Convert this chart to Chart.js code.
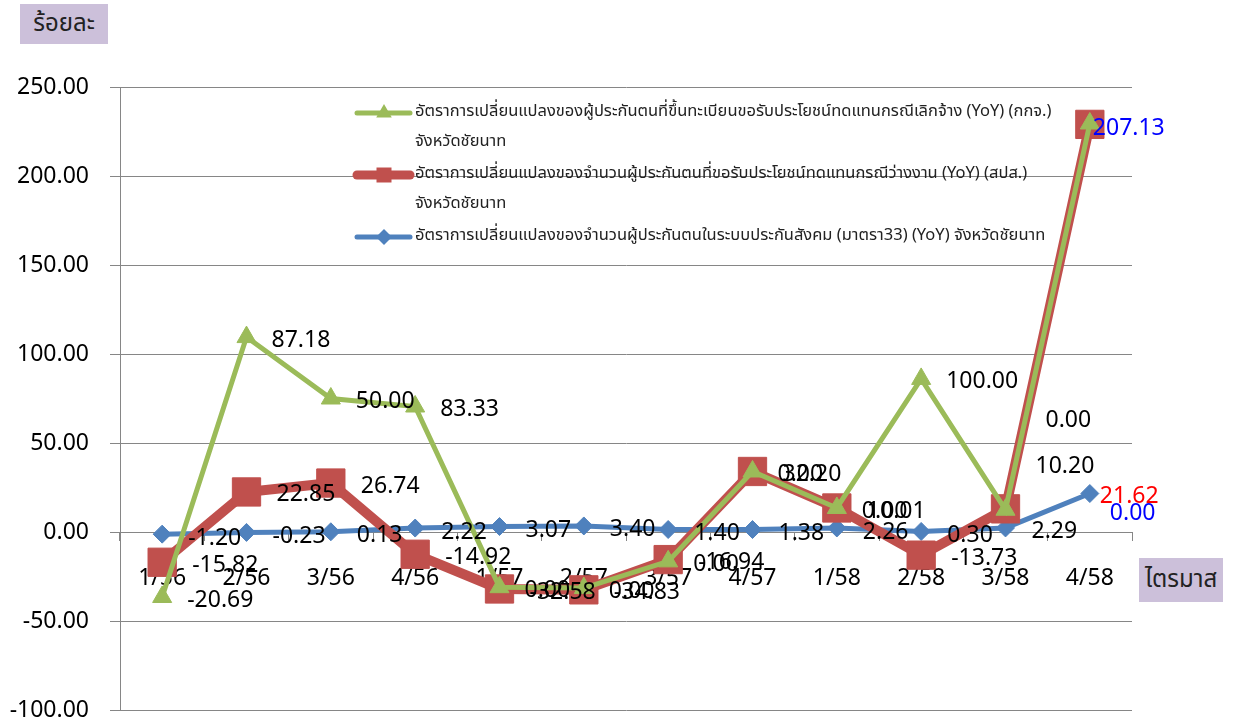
<!DOCTYPE html>
<html>
<head>
<meta charset="utf-8">
<script src="https://cdn.jsdelivr.net/npm/chart.js@4.4.1/dist/chart.umd.min.js"></script>
<style>
  html, body { margin: 0; padding: 0; background: #fff; }
  #wrap { position: relative; width: 1237px; height: 725px; }
  canvas { position: absolute; left: 0; top: 0; }
  .box { position: absolute; background: #CCC0DA; color: #222;
         font-family: 'Noto Sans Thai', 'Noto Sans', sans-serif; font-size: 24px;
         display: flex; align-items: center; justify-content: center; }
  #ylab { left: 20px; top: 4px; width: 88px; height: 40px; }
  #xlab { left: 1139px; top: 558px; width: 84px; height: 44px; }
</style>
</head>
<body>
<div id="wrap">
  <canvas id="c" width="1237" height="725"></canvas>
  <div class="box" id="ylab">ร้อยละ</div>
  <div class="box" id="xlab">ไตรมาส</div>
</div>
<script>
// ---- data ----
const categories = ["1/56","2/56","3/56","4/56","1/57","2/57","3/57","4/57","1/58","2/58","3/58","4/58"];
const greenValues = [-36.5, 109.5, 75, 70.5, -31, -31.5, -16.5, 34, 13.5, 86, 12.5, 229.5];
const redValues   = [-17, 22.5, 27.5, -12.5, -32, -32.5, -15.5, 34, 13.5, -13, 13, 229];
const blueValues  = [-1.20, -0.23, 0.13, 2.22, 3.07, 3.40, 1.40, 1.38, 2.26, 0.30, 2.29, 21.62];
const greenLabels = ["-20.69","87.18","50.00","83.33","0.00","0.00","0.00","0.00","0.00","100.00","0.00","207.13"];
const redLabels   = ["-15.82","22.85","26.74","-14.92","-32.58","-34.83","-16.94","32.20","10.01","-13.73","10.20","0.00"];
const blueLabels  = ["-1.20","-0.23","0.13","2.22","3.07","3.40","1.40","1.38","2.26","0.30","2.29","21.62"];
const greenName = ["อัตราการเปลี่ยนแปลงของผู้ประกันตนที่ขึ้นทะเบียนขอรับประโยชน์ทดแทนกรณีเลิกจ้าง (YoY) (กกจ.)", "จังหวัดชัยนาท"];
const redName   = ["อัตราการเปลี่ยนแปลงของจำนวนผู้ประกันตนที่ขอรับประโยชน์ทดแทนกรณีว่างงาน (YoY) (สปส.)", "จังหวัดชัยนาท"];
const blueName  = ["อัตราการเปลี่ยนแปลงของจำนวนผู้ประกันตนในระบบประกันสังคม (มาตรา33) (YoY) จังหวัดชัยนาท"];
const yMin = -100, yMax = 250, yStep = 50;

const FONT = "'Noto Sans', 'Noto Sans Thai', sans-serif";
const THAI = "'Noto Sans Thai', 'Noto Sans', sans-serif";
const GREEN = '#9BBB59', RED = '#C0504D', BLUE = '#4F81BD';

// label placement (offset of label's left edge / vertical centre from its point)
const labelStyle = [
  { dx: 25, dy: 3, over: { 10: {dx: 40, dy: -89}, 11: {dx: 3, dy: 5, color: '#0000FF'} } },
  { dx: 30, dy: 3, over: { 10: {dx: 30, dy: -42}, 11: {dx: 20, dy: 389, color: '#0000FF'} } },
  { dx: 26, dy: 4, over: { 11: {dx: 10, dy: 3, color: '#FF0000'} } }
];

const dataLabelPlugin = {
  id: 'dataLabels',
  afterDatasetsDraw(chart) {
    const ctx = chart.ctx;
    ctx.save();
    ctx.font = '23px ' + FONT;
    ctx.textAlign = 'left';
    ctx.textBaseline = 'middle';
    chart.data.datasets.forEach((ds, di) => {
      const meta = chart.getDatasetMeta(di);
      const st = labelStyle[di];
      meta.data.forEach((el, i) => {
        const o = st.over[i] || {};
        const dx = o.dx !== undefined ? o.dx : st.dx;
        const dy = o.dy !== undefined ? o.dy : st.dy;
        ctx.fillStyle = o.color || '#000';
        ctx.fillText(ds.valueLabels[i], el.x + dx, el.y + dy);
      });
    });
    ctx.restore();
  }
};

function marker(ctx, style, x, y, r, color) {
  ctx.fillStyle = color;
  ctx.beginPath();
  if (style === 'triangle') {
    ctx.moveTo(x, y - r);
    ctx.lineTo(x + r * 0.866, y + r * 0.5);
    ctx.lineTo(x - r * 0.866, y + r * 0.5);
  } else if (style === 'rect') {
    ctx.rect(x - r, y - r, 2 * r, 2 * r);
  } else {
    ctx.moveTo(x, y - r); ctx.lineTo(x + r, y); ctx.lineTo(x, y + r); ctx.lineTo(x - r, y);
  }
  ctx.closePath();
  ctx.fill();
}

const legendPlugin = {
  id: 'innerLegend',
  afterDraw(chart) {
    const ctx = chart.ctx;
    const items = [
      { ds: 0, y: 113, r: 9, style: 'triangle', lw: 5 },
      { ds: 1, y: 175, r: 7.5, style: 'rect', lw: 9 },
      { ds: 2, y: 237, r: 8, style: 'rectRot', lw: 5 }
    ];
    ctx.save();
    ctx.font = '16.5px ' + THAI;
    ctx.textAlign = 'left';
    ctx.textBaseline = 'middle';
    items.forEach(it => {
      const ds = chart.data.datasets[it.ds];
      ctx.strokeStyle = ds.borderColor;
      ctx.lineWidth = it.lw;
      ctx.lineCap = 'round';
      ctx.beginPath();
      ctx.moveTo(357, it.y); ctx.lineTo(410, it.y);
      ctx.stroke();
      marker(ctx, it.style, 384, it.y, it.r, ds.borderColor);
      ctx.fillStyle = '#222';
      ds.legendLines.forEach((t, k) => ctx.fillText(t, 415, it.y + k * 30));
    });
    ctx.restore();
  }
};

function noPad(s) { s.paddingTop = 0; s.paddingBottom = 0; s.paddingLeft = 0; s.paddingRight = 0; }

new Chart(document.getElementById('c'), {
  type: 'line',
  data: {
    labels: categories,
    datasets: [
      { label: greenName.join(' '), legendLines: greenName, valueLabels: greenLabels, data: greenValues,
        borderColor: GREEN, backgroundColor: GREEN, borderWidth: 5,
        pointStyle: 'triangle', pointRadius: 11, pointBorderWidth: 1, pointBackgroundColor: GREEN, pointBorderColor: GREEN,
        tension: 0, order: 1 },
      { label: redName.join(' '), legendLines: redName, valueLabels: redLabels, data: redValues,
        borderColor: RED, backgroundColor: RED, borderWidth: 10,
        pointStyle: 'rect', pointRadius: 20, pointBorderWidth: 1, pointBackgroundColor: RED, pointBorderColor: RED,
        tension: 0, order: 2 },
      { label: blueName.join(' '), legendLines: blueName, valueLabels: blueLabels, data: blueValues,
        borderColor: BLUE, backgroundColor: BLUE, borderWidth: 5,
        pointStyle: 'rectRot', pointRadius: 9, pointBorderWidth: 1, pointBackgroundColor: BLUE, pointBorderColor: BLUE,
        tension: 0, order: 3 }
    ]
  },
  options: {
    responsive: false,
    animation: false,
    devicePixelRatio: 1,
    layout: { autoPadding: false, padding: { left: 0, top: 87, right: 105, bottom: 15 } },
    plugins: { legend: { display: false }, tooltip: { enabled: false } },
    elements: { line: { borderJoinStyle: 'miter' } },
    scales: {
      x: {
        type: 'category',
        position: { y: 0 },
        offset: true,
        grid: { offset: true, drawOnChartArea: false, drawTicks: true, tickLength: 8, color: '#868686', lineWidth: 1 },
        border: { display: true, color: '#868686', width: 1 },
        ticks: { padding: 25, color: '#000', font: { family: FONT, size: 23 }, maxRotation: 0, autoSkip: false },
        afterFit: noPad
      },
      y: {
        min: yMin, max: yMax,
        ticks: { stepSize: yStep, padding: 21, color: '#000', font: { family: FONT, size: 23 },
                 callback: v => Number(v).toFixed(2) },
        grid: { color: '#868686', lineWidth: 1, tickLength: 10, drawTicks: true },
        border: { display: true, color: '#868686', width: 1 },
        afterFit: s => { s.width = 120; noPad(s); }
      }
    }
  },
  plugins: [dataLabelPlugin, legendPlugin]
});
</script>
</body>
</html>
